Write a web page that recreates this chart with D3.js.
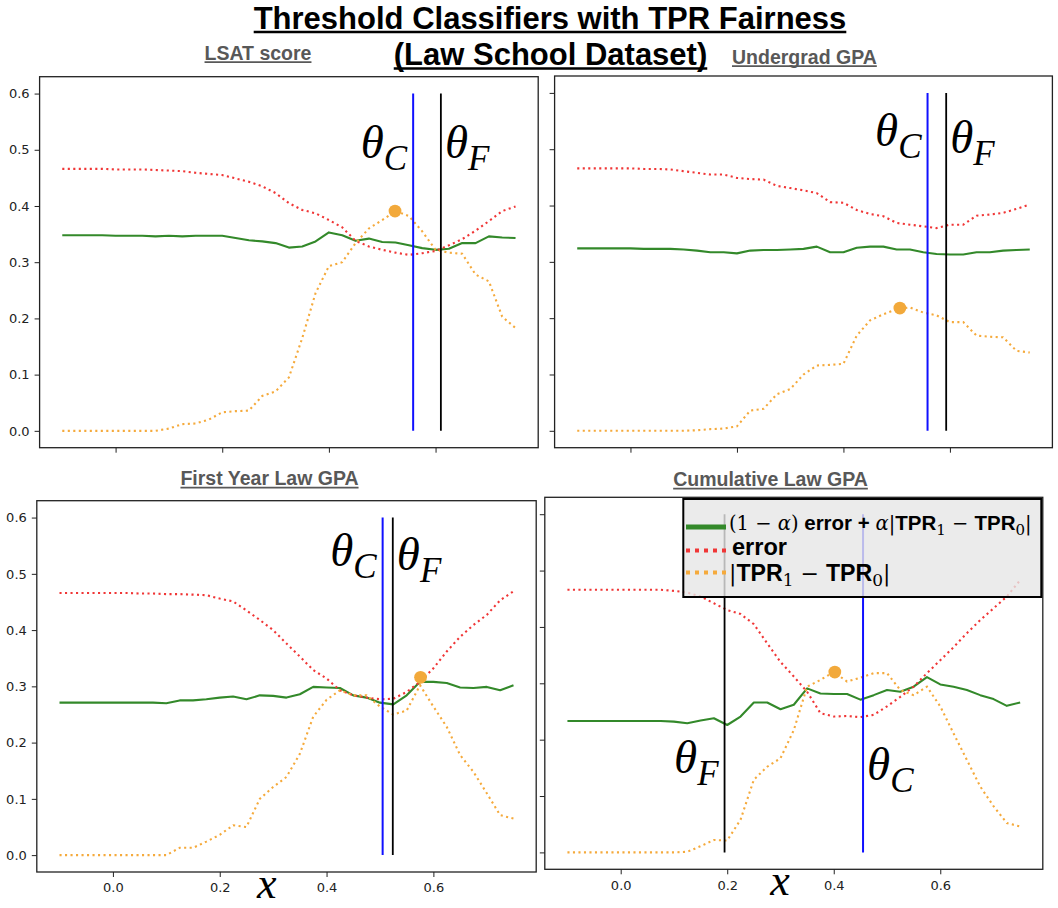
<!DOCTYPE html>
<html lang="en">

<head>
    <meta charset="UTF-8">
    <title>Threshold Classifiers with TPR Fairness</title>
    <script src="https://d3js.org/d3.v7.min.js"></script>
    <style>
        body { margin: 0; background: #fff; }
    </style>
</head>

<body>
    <div id="chart"></div>
    <script>
        // thresholds on the x axis (shared by all four panels)
        const thresholds = [-0.1, -0.075, -0.05, -0.025, 0, 0.025, 0.05, 0.075, 0.1, 0.125, 0.15, 0.175,
            0.2, 0.225, 0.25, 0.275, 0.3, 0.325, 0.35, 0.375, 0.4, 0.425, 0.45, 0.475, 0.5, 0.525,
            0.55, 0.575, 0.6, 0.625, 0.65, 0.675, 0.7, 0.725, 0.75];

        // LSAT score
        const lsatCombined = [0.348, 0.348, 0.348, 0.348, 0.347, 0.347, 0.347, 0.346, 0.347, 0.346, 0.347, 0.347,
            0.347, 0.343, 0.339, 0.337, 0.334, 0.326, 0.328, 0.337, 0.353, 0.348, 0.338, 0.342, 0.336, 0.335,
            0.330, 0.325, 0.322, 0.324, 0.334, 0.334, 0.346, 0.344, 0.343];
        const lsatError = [0.466, 0.466, 0.466, 0.466, 0.465, 0.465, 0.465, 0.464, 0.463, 0.462, 0.459, 0.457,
            0.455, 0.449, 0.443, 0.435, 0.423, 0.405, 0.393, 0.387, 0.375, 0.362, 0.338, 0.328, 0.322, 0.317,
            0.313, 0.316, 0.320, 0.330, 0.341, 0.356, 0.373, 0.391, 0.399];
        const lsatGap = [0, 0, 0, 0, 0, 0, 0, 0, 0.004, 0.012, 0.013, 0.020,
            0.033, 0.035, 0.036, 0.062, 0.070, 0.095, 0.165, 0.245, 0.293, 0.300, 0.334, 0.360, 0.375, 0.391,
            0.382, 0.355, 0.322, 0.317, 0.315, 0.278, 0.266, 0.203, 0.183];

        // Undergrad GPA
        const ugpaCombined = [0.324, 0.324, 0.324, 0.324, 0.324, 0.323, 0.323, 0.323, 0.322, 0.320, 0.317, 0.317,
            0.315, 0.320, 0.321, 0.321, 0.322, 0.323, 0.327, 0.317, 0.317, 0.325, 0.327, 0.327, 0.322, 0.322,
            0.317, 0.314, 0.313, 0.313, 0.317, 0.317, 0.320, 0.321, 0.322];
        const ugpaError = [0.466, 0.466, 0.466, 0.466, 0.466, 0.465, 0.465, 0.464, 0.461, 0.458, 0.455, 0.455,
            0.449, 0.447, 0.446, 0.435, 0.431, 0.427, 0.422, 0.406, 0.405, 0.392, 0.385, 0.381, 0.369, 0.366,
            0.363, 0.360, 0.366, 0.366, 0.382, 0.384, 0.387, 0.394, 0.402];
        const ugpaGap = [0, 0, 0, 0, 0, 0, 0, 0, 0, 0.001, 0.003, 0.004,
            0.008, 0.036, 0.039, 0.065, 0.074, 0.100, 0.116, 0.117, 0.119, 0.169, 0.196, 0.207, 0.216, 0.219,
            0.210, 0.205, 0.193, 0.193, 0.169, 0.167, 0.166, 0.142, 0.139];

        // First Year Law GPA
        const fygpaCombined = [0.271, 0.271, 0.271, 0.271, 0.271, 0.271, 0.271, 0.271, 0.270, 0.275, 0.275, 0.277,
            0.280, 0.282, 0.277, 0.284, 0.283, 0.280, 0.286, 0.299, 0.298, 0.297, 0.284, 0.280, 0.271, 0.268,
            0.284, 0.308, 0.308, 0.306, 0.298, 0.297, 0.299, 0.293, 0.302];
        const fygpaError = [0.466, 0.466, 0.466, 0.466, 0.466, 0.466, 0.465, 0.465, 0.464, 0.464, 0.463, 0.462,
            0.456, 0.451, 0.435, 0.418, 0.400, 0.376, 0.353, 0.329, 0.314, 0.293, 0.284, 0.280, 0.277, 0.278,
            0.290, 0.308, 0.332, 0.362, 0.388, 0.409, 0.427, 0.453, 0.469];
        const fygpaGap = [0, 0, 0, 0, 0, 0, 0, 0, 0, 0.013, 0.013, 0.024,
            0.036, 0.053, 0.050, 0.100, 0.121, 0.139, 0.180, 0.246, 0.276, 0.293, 0.284, 0.284, 0.264, 0.250,
            0.257, 0.302, 0.264, 0.228, 0.178, 0.148, 0.110, 0.071, 0.065];

        // Cumulative Law GPA
        const cumCombined = [0.233, 0.233, 0.233, 0.233, 0.233, 0.233, 0.233, 0.233, 0.232, 0.229, 0.234, 0.238,
            0.226, 0.241, 0.266, 0.266, 0.254, 0.262, 0.291, 0.282, 0.281, 0.281, 0.271, 0.279, 0.288, 0.285,
            0.294, 0.311, 0.298, 0.294, 0.288, 0.279, 0.272, 0.260, 0.266];
        const cumError = [0.466, 0.466, 0.466, 0.466, 0.466, 0.466, 0.466, 0.466, 0.464, 0.461, 0.454, 0.442,
            0.430, 0.423, 0.405, 0.371, 0.338, 0.312, 0.285, 0.247, 0.241, 0.242, 0.240, 0.244, 0.259, 0.276,
            0.294, 0.318, 0.341, 0.364, 0.389, 0.412, 0.433, 0.454, 0.483];
        const cumGap = [0, 0, 0, 0, 0, 0, 0, 0, 0, 0.001, 0.011, 0.022,
            0.021, 0.058, 0.129, 0.152, 0.167, 0.217, 0.294, 0.306, 0.320, 0.303, 0.310, 0.318, 0.318, 0.288,
            0.279, 0.294, 0.259, 0.211, 0.164, 0.117, 0.082, 0.052, 0.046];

        const panelTitles = ['LSAT score', 'Undergrad GPA', 'First Year Law GPA', 'Cumulative Law GPA'];
        const thetaC = [0.558, 0.558, 0.505, 0.455];   // accuracy threshold (blue)
        const thetaF = [0.610, 0.593, 0.524, 0.195];   // fair threshold (black)
        const thetaCLabelY = [0.485, 0.505, 0.514, 0.128];
        const thetaFLabelY = [0.485, 0.494, 0.507, 0.140];
        const bestX = [0.524, 0.506, 0.576, 0.402];     // orange marker
        const bestY = [0.391, 0.218, 0.316, 0.320];

        const yTicks = [0, 0.1, 0.2, 0.3, 0.4, 0.5, 0.6];
        const xTicks = [0, 0.2, 0.4, 0.6];

        const series = [
            [lsatCombined, lsatError, lsatGap],
            [ugpaCombined, ugpaError, ugpaGap],
            [fygpaCombined, fygpaError, fygpaGap],
            [cumCombined, cumError, cumGap]
        ];

        // layout of the four screenshots (pixels)
        const panels = [
            { left: 39.6, right: 538.2, top: 76.7, bottom: 447.7, titleX: 258, titleY: 59.5, yLab: true, xLab: false },
            { left: 554.6, right: 1052.4, top: 76, bottom: 447.7, titleX: 804.4, titleY: 63.5, yLab: false, xLab: false },
            { left: 36.8, right: 536.2, top: 500.7, bottom: 872, titleX: 269.5, titleY: 485, yLab: true, xLab: true, xNameX: 266.7, xNameY: 897.5 },
            { left: 544.8, right: 1042.8, top: 497.3, bottom: 869.3, titleX: 770.5, titleY: 486, yLab: false, xLab: true, xNameX: 780, xNameY: 895 }
        ];

        const green = '#33892a';
        const red = '#f03636';
        const orange = '#f5aa3c';
        const serif = '"Liberation Serif", "DejaVu Serif", serif';
        const mathSerif = '"DejaVu Serif", serif';
        const sans = '"Liberation Sans", Arial, sans-serif';

        const svg = d3.select('#chart')
            .append('svg')
            .attr('width', 1058)
            .attr('height', 908);

        // underlined text helper
        function underlined(x, y, txt, size, color, thick) {
            const t = svg.append('text')
                .attr('x', x)
                .attr('y', y)
                .attr('text-anchor', 'middle')
                .attr('font-family', sans)
                .attr('font-weight', 'bold')
                .attr('font-size', size)
                .attr('fill', color)
                .text(txt);
            const w = t.node().getComputedTextLength();
            svg.append('line')
                .attr('x1', x - w / 2).attr('x2', x + w / 2)
                .attr('y1', y + thick + 1).attr('y2', y + thick + 1)
                .attr('stroke', color)
                .attr('stroke-width', thick);
        }

        underlined(550, 28.5, 'Threshold Classifiers with TPR Fairness', 31, '#000', 2.5);
        underlined(550.5, 65, '(Law School Dataset)', 31, '#000', 2.5);

        panels.forEach(function (p, k) {
            const x = d3.scaleLinear().domain([-0.1425, 0.7925]).range([p.left, p.right]);
            const y = d3.scaleLinear().domain([-0.03, 0.63]).range([p.bottom, p.top]);
            const g = svg.append('g');

            underlined(p.titleX, p.titleY, panelTitles[k], 19.5, '#585858', 1.6);

            // axes
            const yAxis = g.append('g')
                .attr('transform', `translate(${p.left},0)`)
                .call(d3.axisLeft(y).tickValues(yTicks).tickSize(5).tickPadding(5)
                    .tickFormat(p.yLab ? d3.format('.1f') : ''));
            const xAxis = g.append('g')
                .attr('transform', `translate(0,${p.bottom})`)
                .call(d3.axisBottom(x).tickValues(xTicks).tickSize(5).tickPadding(6)
                    .tickFormat(p.xLab ? d3.format('.1f') : ''));
            [yAxis, xAxis].forEach(function (a) {
                a.select('.domain').remove();
                a.selectAll('line').attr('stroke', '#222');
                a.selectAll('text')
                    .attr('fill', '#222')
                    .attr('font-family', '"DejaVu Sans", sans-serif')
                    .attr('font-size', 13);
            });

            // curves
            const line = d3.line()
                .x((d, i) => x(thresholds[i]))
                .y(d => y(d));

            g.append('path')
                .attr('d', line(series[k][0]))
                .attr('fill', 'none')
                .attr('stroke', green)
                .attr('stroke-width', 2.1)
                .attr('stroke-linejoin', 'round');
            g.append('path')
                .attr('d', line(series[k][1]))
                .attr('fill', 'none')
                .attr('stroke', red)
                .attr('stroke-width', 2.1)
                .attr('stroke-dasharray', '2.1,3.4');
            g.append('path')
                .attr('d', line(series[k][2]))
                .attr('fill', 'none')
                .attr('stroke', orange)
                .attr('stroke-width', 2.1)
                .attr('stroke-dasharray', '2.1,3.4');

            // threshold lines
            g.append('line')
                .attr('x1', x(thetaC[k])).attr('x2', x(thetaC[k]))
                .attr('y1', y(0)).attr('y2', y(0.6))
                .attr('stroke', '#1010ff')
                .attr('stroke-width', 2);
            g.append('line')
                .attr('x1', x(thetaF[k])).attr('x2', x(thetaF[k]))
                .attr('y1', y(0)).attr('y2', y(0.6))
                .attr('stroke', '#000')
                .attr('stroke-width', 1.8);

            // best point
            g.append('circle')
                .attr('cx', x(bestX[k]))
                .attr('cy', y(bestY[k]))
                .attr('r', 6.4)
                .attr('fill', '#f2a93b');

            // theta labels, the smaller threshold gets its label on the left
            const labels = [
                { sub: 'C', t: thetaC[k], ly: thetaCLabelY[k] },
                { sub: 'F', t: thetaF[k], ly: thetaFLabelY[k] }
            ];
            const minT = Math.min(thetaC[k], thetaF[k]);
            labels.forEach(function (l) {
                const leftSide = l.t === minT;
                const t = g.append('text')
                    .attr('x', x(l.t) + (leftSide ? -6 : 4))
                    .attr('y', y(l.ly))
                    .attr('text-anchor', leftSide ? 'end' : 'start')
                    .attr('font-family', serif)
                    .attr('font-style', 'italic')
                    .attr('font-size', 47)
                    .attr('fill', '#000');
                t.append('tspan').text('θ');
                t.append('tspan').attr('font-size', 35).attr('dy', 12).text(l.sub);
            });

            // frame
            g.append('rect')
                .attr('x', p.left)
                .attr('y', p.top)
                .attr('width', p.right - p.left)
                .attr('height', p.bottom - p.top)
                .attr('fill', 'none')
                .attr('stroke', '#222')
                .attr('stroke-width', 1.3);

            if (p.xLab) {
                g.append('text')
                    .attr('x', p.xNameX)
                    .attr('y', p.xNameY)
                    .attr('text-anchor', 'middle')
                    .attr('font-family', serif)
                    .attr('font-style', 'italic')
                    .attr('font-size', 44)
                    .attr('fill', '#000')
                    .text('x');
            }
        });

        // legend (drawn in the last panel)
        const lg = svg.append('g');
        lg.append('rect')
            .attr('x', 683.3).attr('y', 499)
            .attr('width', 358).attr('height', 98)
            .attr('fill', '#e6e6e6')
            .attr('fill-opacity', 0.8)
            .attr('stroke', '#000')
            .attr('stroke-width', 2);

        const swatches = [
            { y: 527, color: green, dash: null },
            { y: 550.5, color: red, dash: '4,5' },
            { y: 572.5, color: orange, dash: '4,5' }
        ];
        swatches.forEach(function (s) {
            lg.append('line')
                .attr('x1', 686).attr('x2', 726)
                .attr('y1', s.y).attr('y2', s.y)
                .attr('stroke', s.color)
                .attr('stroke-width', s.dash ? 4 : 5)
                .attr('stroke-dasharray', s.dash);
        });

        // pieces of the math labels: [text, kind]
        const legendRows = [
            [['(1 − ', 'rm'], ['α', 'it'], [')', 'rm'], [' error + ', 'bf'], ['α', 'it'], ['|', 'rm'], ['TPR', 'bf'],
            ['1', 'sub'], [' − ', 'rm'], ['TPR', 'bf'], ['0', 'sub'], ['|', 'rm']],
            [['error', 'bf']],
            [['|', 'rm'], ['TPR', 'bf'], ['1', 'sub'], [' − ', 'rm'], ['TPR', 'bf'], ['0', 'sub'], ['|', 'rm']]
        ];
        const rowBase = [530, 555, 580.5];
        const rowScale = [1, 1.15, 1.13];
        legendRows.forEach(function (row, r) {
            const sc = rowScale[r];
            const t = lg.append('text')
                .attr('x', r === 1 ? 732 : 729)
                .attr('y', rowBase[r])
                .attr('fill', '#000')
                .attr('xml:space', 'preserve');
            let shifted = false;
            row.forEach(function (piece) {
                const s = t.append('tspan').text(piece[0]);
                if (piece[1] === 'bf') {
                    s.attr('font-family', sans).attr('font-weight', 'bold').attr('font-size', 20.5 * sc);
                } else {
                    s.attr('font-family', mathSerif).attr('font-size', 19.5 * sc);
                }
                if (piece[1] === 'it') s.attr('font-style', 'italic');
                if (piece[1] === 'sub') {
                    s.attr('font-size', 15 * sc).attr('dy', 5 * sc);
                    shifted = true;
                } else if (shifted) {
                    s.attr('dy', -5 * sc);
                    shifted = false;
                }
            });
        });
    </script>
</body>

</html>
